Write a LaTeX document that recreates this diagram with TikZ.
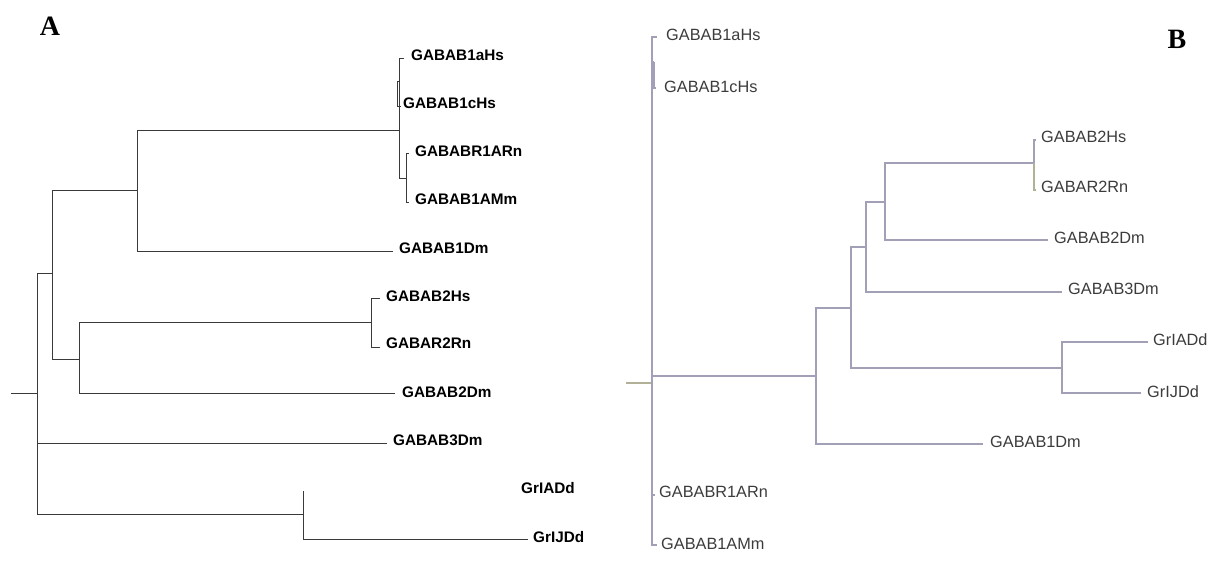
\documentclass[tikz,border=0pt]{standalone}
\usepackage{fontspec}
\newfontfamily\lsans{Liberation Sans}
\newfontfamily\lserif{Liberation Serif}
\definecolor{lineA}{HTML}{3A3A3A}
\definecolor{lineB}{HTML}{A2A0B6}
\definecolor{rootB}{HTML}{B2B096}
\definecolor{textB}{HTML}{3C3C3C}
\tikzset{
  panellbl/.style={inner sep=0pt, font=\lserif\bfseries\fontsize{28}{28}\selectfont},
  lblA/.style={anchor=west, inner sep=0pt, font=\lsans\bfseries\fontsize{15.3}{16}\selectfont},
  lblB/.style={anchor=west, inner sep=0pt, text=textB, font=\lsans\fontsize{16.3}{17}\selectfont},
  brA/.style={draw=lineA, line width=0.9pt},
  brB/.style={draw=lineB, line width=1.1pt},
}
\begin{document}
\begin{tikzpicture}[x=1pt,y=-1pt]
\useasboundingbox[fill=white] (0,0) rectangle (1215,566);

% ---------------- Panel A ----------------
\node[panellbl] (A) at (50,26) {A};
\coordinate (a0) at (11,393);
\coordinate (a1) at (37,393);
\coordinate (a2) at (52,273);
\coordinate (a3) at (137,190);
\coordinate (a4) at (79,359);
\coordinate (a5) at (399,130);
\coordinate (a6) at (397,81);
\coordinate (a7) at (406,178);
\coordinate (a8) at (303,514);
\coordinate (a8top) at (303,491);
\coordinate (a9) at (371,322);
\coordinate (tA1a) at (404,58);
\coordinate (tA1c) at (401,106);
\coordinate (tAR1) at (409,153);
\coordinate (tAAM) at (409,202);
\coordinate (tA1D) at (393,251);
\coordinate (tA2H) at (380,298);
\coordinate (tAR2) at (380,347);
\coordinate (tA2D) at (395,393);
\coordinate (tA3D) at (387,443);
\coordinate (tAJ) at (528,539);

\node[lblA] (lA1a) at (411,55) {GABAB1aHs};
\node[lblA] (lA1c) at (403,103) {GABAB1cHs};
\node[lblA] (lAR1) at (415,151) {GABABR1ARn};
\node[lblA] (lAAM) at (415,199) {GABAB1AMm};
\node[lblA] (lA1D) at (399,248) {GABAB1Dm};
\node[lblA] (lA2H) at (386,296) {GABAB2Hs};
\node[lblA] (lAR2) at (386,343) {GABAR2Rn};
\node[lblA] (lA2D) at (402,392) {GABAB2Dm};
\node[lblA] (lA3D) at (393,440) {GABAB3Dm};
\node[lblA] (lAIA) at (521,488) {GrIADd};
\node[lblA] (lAIJ) at (533,537) {GrIJDd};

\draw[brA] (a0) -- (a1);
\draw[brA] (a1) |- (a2);
\draw[brA] (a1) |- (tA3D);
\draw[brA] (a1) |- (a8);
\draw[brA] (a2) |- (a3);
\draw[brA] (a2) |- (a4);
\draw[brA] (a3) |- (a5);
\draw[brA] (a3) |- (tA1D);
\draw[brA] (a5) |- (tA1a);
\draw[brA] (a5) |- (a6);
\draw[brA] (a6) |- (tA1c);
\draw[brA] (a5) |- (a7);
\draw[brA] (a7) |- (tAR1);
\draw[brA] (a7) |- (tAAM);
\draw[brA] (a4) |- (a9);
\draw[brA] (a4) |- (tA2D);
\draw[brA] (a9) |- (tA2H);
\draw[brA] (a9) |- (tAR2);
\draw[brA] (a8top) -- (a8);
\draw[brA] (a8) |- (tAJ);

% ---------------- Panel B ----------------
\node[panellbl] (B) at (1177,39) {B};
\coordinate (b0) at (626,383);
\coordinate (b1) at (652,383);
\coordinate (b2) at (654,62);
\coordinate (b3) at (816,376);
\coordinate (b4) at (851,308);
\coordinate (b5) at (866,247);
\coordinate (b6) at (1062,368);
\coordinate (b7) at (885,202);
\coordinate (b8) at (1034,163);
\coordinate (tB1a) at (657,37);
\coordinate (tB1c) at (656,88);
\coordinate (tBR1) at (655,495);
\coordinate (tBAM) at (657,545);
\coordinate (tB2H) at (1036,140);
\coordinate (tBR2) at (1036,190);
\coordinate (tB2D) at (1048,240);
\coordinate (tB3D) at (1062,292);
\coordinate (tBIA) at (1148,342);
\coordinate (tBIJ) at (1141,393);
\coordinate (tB1D) at (983,444);

\node[lblB] (lB1a) at (666,35) {GABAB1aHs};
\node[lblB] (lB1c) at (664,87) {GABAB1cHs};
\node[lblB] (lBR1) at (659,492) {GABABR1ARn};
\node[lblB] (lBAM) at (661,544) {GABAB1AMm};
\node[lblB] (lB2H) at (1041,137) {GABAB2Hs};
\node[lblB] (lBR2) at (1041,187) {GABAR2Rn};
\node[lblB] (lB2D) at (1054,238) {GABAB2Dm};
\node[lblB] (lB3D) at (1068,289) {GABAB3Dm};
\node[lblB] (lBIA) at (1153,340) {GrIADd};
\node[lblB] (lBIJ) at (1147,392) {GrIJDd};
\node[lblB] (lB1D) at (990,442) {GABAB1Dm};

\draw[brB, draw=rootB] (b0) -- (b1);
\draw[brB] (b1) |- (tB1a);
\draw[brB] (b1) |- (b2);
\draw[brB] (b2) |- (tB1c);
\draw[brB] (b1) |- (tBR1);
\draw[brB] (b1) |- (tBAM);
\draw[brB] (b1) |- (b3);
\draw[brB] (b3) |- (b4);
\draw[brB] (b3) |- (tB1D);
\draw[brB] (b4) |- (b5);
\draw[brB] (b4) |- (b6);
\draw[brB] (b5) |- (b7);
\draw[brB] (b5) |- (tB3D);
\draw[brB] (b7) |- (b8);
\draw[brB] (b7) |- (tB2D);
\draw[brB] (b8) |- (tB2H);
\draw[brB, draw=rootB] (b8) |- (tBR2);
\draw[brB] (b6) |- (tBIA);
\draw[brB] (b6) |- (tBIJ);
\end{tikzpicture}
\end{document}
